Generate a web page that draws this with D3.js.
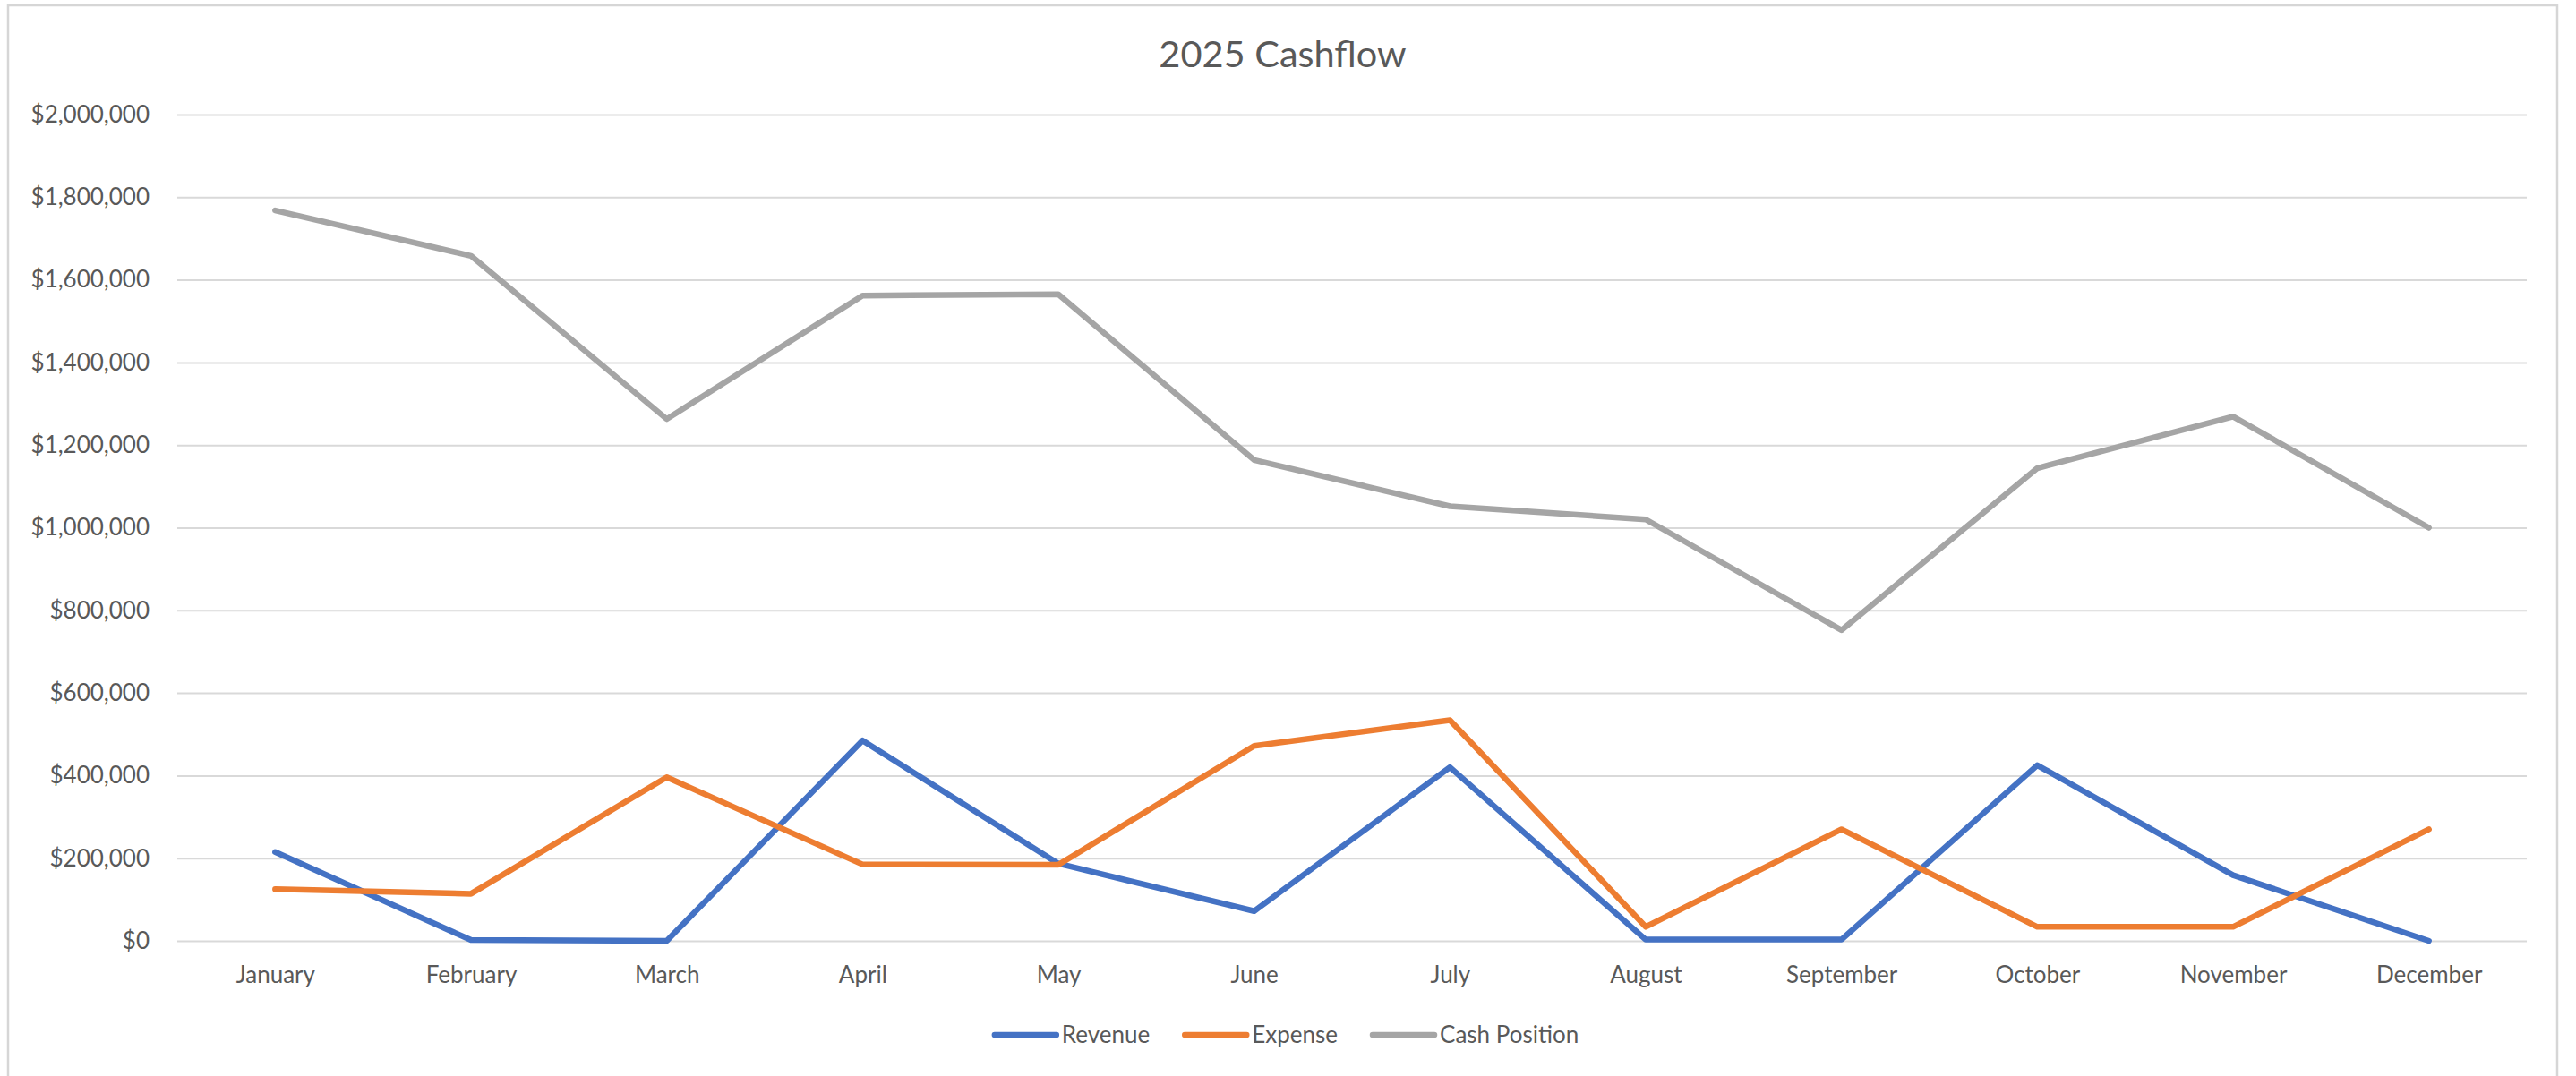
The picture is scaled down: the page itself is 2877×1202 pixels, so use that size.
<!DOCTYPE html>
<html>
<head>
<meta charset="utf-8">
<script src="https://cdn.jsdelivr.net/npm/d3@7"></script>
<style>
  html, body { margin: 0; padding: 0; background: #ffffff; }
  svg { display: block; }
</style>
</head>
<body>
<svg id="chart" width="2877" height="1202"></svg>
<script>
// ---- data ----
const months = ["January", "February", "March", "April", "May", "June",
                "July", "August", "September", "October", "November", "December"];
const revenue = [215000, 2000, 0, 485000, 187000, 72000, 420000, 3000, 3000, 425000, 159000, 0];
const expense = [125000, 114000, 396000, 185000, 184000, 472000, 534000, 34000, 270000, 34000, 34000, 270000];
const cashPosition = [1768000, 1658000, 1263000, 1562000, 1565000, 1164000, 1052000, 1020000, 752000, 1144000, 1269000, 1000000];
const yTicks = [0, 200000, 400000, 600000, 800000, 1000000, 1200000, 1400000, 1600000, 1800000, 2000000];
const seriesNames = ["Revenue", "Expense", "Cash Position"];
const seriesColors = ["#4472C4", "#ED7D31", "#A5A5A5"];
const title = "2025 Cashflow";

// ---- layout ----
const W = 2877, H = 1202;
const frame = { x: 9, y: 6, w: 2847, h: 1210 };
const plot = { left: 198, right: 2822, top: 128, bottom: 1051 };
const FONT = "Lato, 'Open Sans', sans-serif";
const TXT = "#595959";

const svg = d3.select("#chart");

svg.append("rect")
  .attr("x", frame.x).attr("y", frame.y)
  .attr("width", frame.w).attr("height", frame.h)
  .attr("fill", "#fff").attr("stroke", "#D6D6D6").attr("stroke-width", 2.5);

const x = d3.scalePoint().domain(months).range([plot.left, plot.right]).padding(0.5);
const y = d3.scaleLinear().domain([0, 2000000]).range([plot.bottom, plot.top]);

// gridlines + y labels via axis
const yAxis = d3.axisLeft(y).tickValues(yTicks)
  .tickSize(-(plot.right - plot.left))
  .tickPadding(31)
  .tickFormat(d => "$" + d3.format(",")(d));
const gy = svg.append("g").attr("transform", `translate(${plot.left},0)`).call(yAxis);
gy.select(".domain").remove();
gy.selectAll(".tick line").attr("stroke", "#D9D9D9").attr("stroke-width", 2);
gy.selectAll(".tick text")
  .attr("fill", TXT).style("font-family", FONT).style("font-size", "26px");

// x labels via axis
const xAxis = d3.axisBottom(x).tickSize(0).tickPadding(29);
const gx = svg.append("g").attr("transform", `translate(0,${plot.bottom})`).call(xAxis);
gx.select(".domain").remove();
gx.selectAll(".tick text")
  .attr("fill", TXT).style("font-family", FONT).style("font-size", "26px");

// lines
const seriesData = [revenue, expense, cashPosition];
const line = d3.line().x((d, i) => x(months[i])).y(d => y(d));
seriesData.forEach((vals, si) => {
  svg.append("path")
    .datum(vals)
    .attr("d", line)
    .attr("fill", "none")
    .attr("stroke", seriesColors[si])
    .attr("stroke-width", 6.5)
    .attr("stroke-linejoin", "round")
    .attr("stroke-linecap", "round");
});

// title
svg.append("text")
  .attr("x", frame.x + frame.w / 2).attr("y", 75)
  .attr("text-anchor", "middle")
  .attr("fill", TXT)
  .style("font-family", FONT).style("font-size", "41.5px")
  .text(title);

// legend
const legY = 1156;
const lineLen = 69, textGap = 6, itemGap = 39;
const leg = svg.append("g");
const items = seriesNames.map((name, i) => {
  const g = leg.append("g");
  g.append("line").attr("x1", 0).attr("x2", lineLen).attr("y1", 0).attr("y2", 0)
    .attr("stroke", seriesColors[i]).attr("stroke-width", 6.5).attr("stroke-linecap", "round");
  const t = g.append("text").attr("x", lineLen + textGap).attr("y", 0)
    .attr("dy", "0.35em").attr("fill", TXT)
    .style("font-family", FONT).style("font-size", "26px").text(name);
  return { g, w: lineLen + textGap + t.node().getComputedTextLength() };
});
const total = d3.sum(items, d => d.w) + itemGap * (items.length - 1);
let cx = 1437 - total / 2;
items.forEach(it => {
  it.g.attr("transform", `translate(${cx},${legY})`);
  cx += it.w + itemGap;
});
</script>
</body>
</html>
